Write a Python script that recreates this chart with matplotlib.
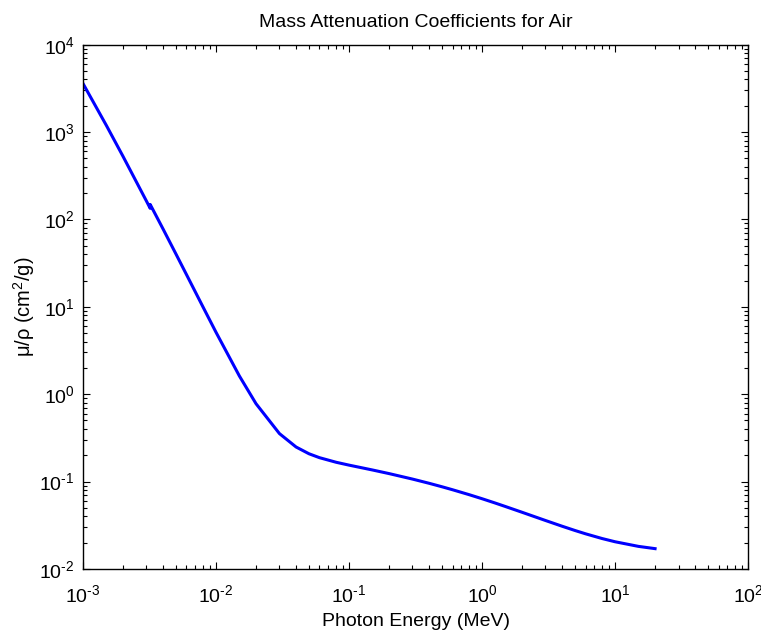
import numpy as np
import matplotlib.pyplot as plt
from matplotlib.ticker import LogLocator, NullFormatter, FuncFormatter

plt.rcParams['font.family'] = ['Liberation Sans', 'DejaVu Sans']
plt.rcParams['mathtext.fontset'] = 'custom'
plt.rcParams['mathtext.rm'] = 'Liberation Sans'
plt.rcParams['mathtext.it'] = 'Liberation Sans:italic'

# photon energy (MeV) and mass attenuation coefficient (cm^2/g) for air
energy = [1.0e-3, 1.5e-3, 2.0e-3, 3.0e-3, 3.2029e-3, 3.2029e-3, 4.0e-3, 5.0e-3,
          6.0e-3, 8.0e-3, 1.0e-2, 1.5e-2, 2.0e-2, 3.0e-2, 4.0e-2, 5.0e-2,
          6.0e-2, 8.0e-2, 1.0e-1, 1.5e-1, 2.0e-1, 3.0e-1, 4.0e-1, 5.0e-1,
          6.0e-1, 8.0e-1, 1.0, 1.25, 1.5, 2.0, 3.0, 4.0, 5.0, 6.0, 8.0,
          10.0, 15.0, 20.0]
mu_rho = [3606, 1191, 527.9, 162.5, 134.0, 148.5, 77.88, 40.27,
          23.41, 9.921, 5.120, 1.614, 0.7779, 0.3538, 0.2485, 0.2080,
          0.1875, 0.1662, 0.1541, 0.1356, 0.1233, 0.1067, 0.09549, 0.08712,
          0.08055, 0.07074, 0.06358, 0.05687, 0.05175, 0.04447, 0.03581,
          0.03079, 0.02751, 0.02522, 0.02225, 0.02045, 0.01810, 0.01705]


def pow10(v, pos):
    e = int(round(np.log10(v)))
    if e < 0:
        return r'$\mathregular{10^{\text{-}%d}}$' % (-e)
    return r'$\mathregular{10^{%d}}$' % e


fig = plt.figure(figsize=(7.61, 6.3), dpi=100)
ax = fig.add_axes([0.109, 0.097, 0.874, 0.832])
ax.loglog(energy, mu_rho, color='#0000ff', linewidth=2.2)

ax.set_xlim(1e-3, 1e2)
ax.set_ylim(1e-2, 1e4)
ax.xaxis.set_major_locator(LogLocator(base=10, numticks=10))
ax.yaxis.set_major_locator(LogLocator(base=10, numticks=10))
ax.xaxis.set_minor_locator(LogLocator(base=10, subs=np.arange(2, 10), numticks=20))
ax.yaxis.set_minor_locator(LogLocator(base=10, subs=np.arange(2, 10), numticks=20))
ax.xaxis.set_major_formatter(FuncFormatter(pow10))
ax.yaxis.set_major_formatter(FuncFormatter(pow10))
ax.xaxis.set_minor_formatter(NullFormatter())
ax.yaxis.set_minor_formatter(NullFormatter())
ax.tick_params(which='both', direction='in', top=True, right=True, labelsize=14)
ax.tick_params(which='major', length=5, width=0.8)
ax.tick_params(which='minor', length=3, width=0.8)
ax.tick_params(axis='x', pad=11)
ax.tick_params(axis='y', pad=6)
for s in ax.spines.values():
    s.set_linewidth(1.0)

ax.set_xlabel('Photon Energy (MeV)', fontsize=14, labelpad=5)
ax.set_ylabel(r'μ/ρ (cm$^2$/g)', fontsize=14.5, labelpad=2)
ax.set_title('Mass Attenuation Coefficients for Air', fontsize=14, pad=13)

fig.savefig('out.png', dpi=100)
